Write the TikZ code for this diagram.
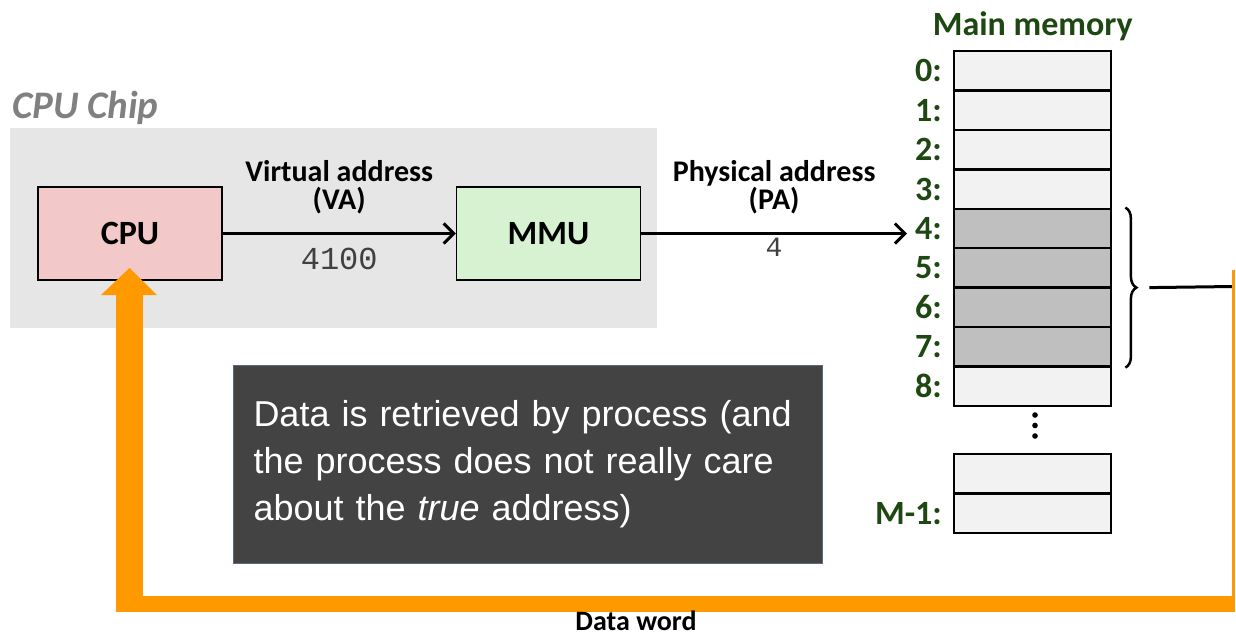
\documentclass[tikz,border=0pt]{standalone}
\usepackage{fontspec}
\setmainfont{Carlito}
\newfontfamily\arialfont{Liberation Sans}
\newfontfamily\monofont{Liberation Mono}
\usepackage{xcolor}
\usetikzlibrary{positioning, arrows.meta, decorations.pathreplacing, calc}

\definecolor{chipgray}{RGB}{230,230,230}
\definecolor{cpupink}{RGB}{242,200,200}
\definecolor{mmugreen}{RGB}{214,242,208}
\definecolor{memgreen}{RGB}{30,72,18}
\definecolor{cellfree}{RGB}{242,242,242}
\definecolor{cellused}{RGB}{191,191,191}
\definecolor{dataorange}{RGB}{255,153,0}
\definecolor{notegray}{RGB}{67,67,67}
\definecolor{noteedge}{RGB}{90,105,125}

\begin{document}
\begin{tikzpicture}[
        x=1pt, y=-1pt,
        box/.style={
            draw,
            line width=1.5pt,
            minimum width=184pt,
            minimum height=93pt,
            font=\fontsize{34}{40}\selectfont\bfseries
        },
        addr/.style={align=center, inner sep=0pt, font=\fontsize{30}{28}\selectfont\bfseries},
        mono/.style={inner sep=0pt, text=black!75, font=\fontsize{32}{36}\monofont},
        cell/.style={draw, line width=2.4pt, minimum width=157pt, minimum height=39.4pt, anchor=north west, inner sep=0pt},
        freecell/.style={fill=cellfree},
        usedcell/.style={fill=cellused},
        memlabel/.style={inner sep=0pt, text=memgreen, font=\fontsize{34}{40}\selectfont\bfseries},
        arrow/.style={-{Straight Barb[length=10pt, width=20pt]}, line width=3pt}
    ]

        \useasboundingbox (0,0) rectangle (1236,637);

        % CPU chip
        \node[fill=chipgray, minimum width=647pt, minimum height=200pt, inner sep=0pt] (chip) at (333.5,228) {};
        \node[anchor=base west, inner sep=0pt, text=black!50, font=\fontsize{39}{40}\selectfont\bfseries\itshape] (chiplab) at (12,118) {CPU Chip};

        \node[box, fill=cpupink] (cpu) at (130,233.5) {CPU};
        \node[box, fill=mmugreen, right=233pt of cpu] (mmu) {MMU};

        % main memory
        \foreach \i/\kind in {0/freecell,1/freecell,2/freecell,3/freecell,4/usedcell,5/usedcell,6/usedcell,7/usedcell,8/freecell}{
            \node[cell, \kind] (m\i) at (953,50+39.4*\i) {};
            \node[memlabel, left=11pt of m\i] (l\i) {\i:};
        }
        \node[memlabel, above=9pt of m0] (memtitle) {Main memory};

        \foreach \d in {0,1,2}
            \fill (1035,415+10.5*\d) circle (2.8pt);

        \node[cell, freecell] (mA) at (953,453) {};
        \node[cell, freecell] (mB) at (953,492.4) {};
        \node[memlabel, left=11pt of mB] (lM) {M-1:};

        % addresses
        \draw[arrow] (cpu) -- node[addr, above=18pt] {Virtual address\\(VA)} node[mono, below=13pt] {4100} (mmu);

        \coordinate (pa) at ([xshift=-8pt]l4.west);
        \draw[arrow] (mmu.east) -- node[addr, above=18pt] {Physical address\\(PA)} node[mono, below=3pt, font=\fontsize{28}{30}\monofont] {4} (mmu.east -| pa);

        % data word back to the CPU
        \draw[decorate, decoration={brace, amplitude=11pt}, line width=2.5pt] ([xshift=13pt]m4.north east) -- ([xshift=13pt]m7.south east);
        \coordinate (bt) at ($(m4.north east)!0.5!(m7.south east) + (37,0)$);
        \coordinate (wire) at (1233,286.5);
        \draw[line width=3pt] (bt) -- (wire);

        \coordinate (ret) at (1233,270);
        \coordinate (low) at (1235,612);
        \coordinate (tip) at (129.5,268);
        \draw[dataorange, line width=3pt] (ret) -- (ret |- low);
        \fill[dataorange] (low) rectangle (116,596);
        \fill[dataorange] (116,612) rectangle (143,294);
        \fill[dataorange] (101,295) -- (157,295) -- (tip) -- cycle;

        \node[anchor=base, font=\fontsize{28}{30}\selectfont\bfseries] (dataword) at (636,630) {Data word};

        % note
        \node[fill=notegray, draw=noteedge, line width=1pt, anchor=north west,
              minimum width=589pt, minimum height=198pt, text width=549pt, inner xsep=20pt,
              align=left, text=white, font=\fontsize{36}{47}\arialfont] (note) at (233,365)
              {Data is retrieved by process (and\\the process does not really care\\about the \textit{true} address)};

    \end{tikzpicture}
\end{document}
